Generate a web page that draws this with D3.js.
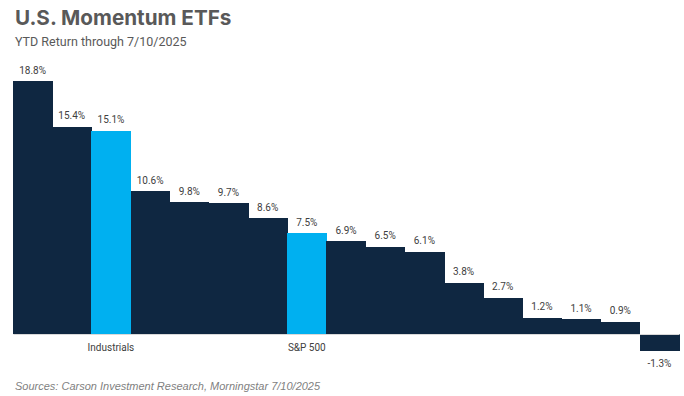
<!DOCTYPE html>
<html>
<head>
<meta charset="utf-8">
<script src="https://cdn.jsdelivr.net/npm/d3@7"></script>
<style>
  body { margin: 0; background: #fff; }
  svg { display: block; }
</style>
</head>
<body>
<div id="chart"></div>
<script>
// data
var funds = ["ETF 1", "ETF 2", "Industrials", "ETF 4", "ETF 5", "ETF 6", "ETF 7", "S&P 500",
             "ETF 9", "ETF 10", "ETF 11", "ETF 12", "ETF 13", "ETF 14", "ETF 15", "ETF 16", "ETF 17"];
var ytdReturn = [18.8, 15.4, 15.1, 10.6, 9.8, 9.7, 8.6, 7.5, 6.9, 6.5, 6.1, 3.8, 2.7, 1.2, 1.1, 0.9, -1.3];
var shownLabels = ["Industrials", "S&P 500"];

var data = funds.map(function(f, i) { return {name: f, value: ytdReturn[i]}; });

var W = 684, H = 396;
var margin = {top: 81, right: 5, bottom: 62, left: 13},
    width = W - margin.left - margin.right,
    height = H - margin.top - margin.bottom;

var svg = d3.select("#chart")
  .append("svg")
    .attr("width", W)
    .attr("height", H);

// titles
svg.append("text")
    .attr("x", 15).attr("y", 25)
    .attr("font-family", "Inter, Roboto, sans-serif")
    .attr("font-weight", "bold")
    .attr("font-size", 20.7)
    .attr("fill", "#595959")
    .text("U.S. Momentum ETFs");

svg.append("text")
    .attr("x", 15).attr("y", 45.5)
    .attr("font-family", "Roboto, sans-serif")
    .attr("font-size", 12.5)
    .attr("fill", "#595959")
    .text("YTD Return through 7/10/2025");

var g = svg.append("g")
    .attr("transform", "translate(" + margin.left + "," + margin.top + ")");

var x = d3.scaleBand()
    .domain(funds)
    .range([0, width])
    .padding(0);

// 18.8 at top, baseline at 253px
var y = d3.scaleLinear()
    .domain([-1.3, 18.8])
    .range([253 + 1.3 * 253 / 18.8, 0]);

g.selectAll(".bar")
    .data(data)
    .enter()
    .append("rect")
      .attr("x", function(d) { return x(d.name); })
      .attr("width", x.bandwidth() + 0.6)
      .attr("y", function(d) { return y(Math.max(0, d.value)); })
      .attr("height", function(d) { return Math.abs(y(d.value) - y(0)); })
      .attr("shape-rendering", "crispEdges")
      .attr("fill", function(d) { return shownLabels.indexOf(d.name) >= 0 ? "#00B0F0" : "#0F2741"; });

var labelFont = "Roboto, sans-serif";

g.selectAll(".val")
    .data(data)
    .enter()
    .append("text")
      .attr("x", function(d) { return x(d.name) + x.bandwidth() / 2; })
      .attr("y", function(d) { return d.value >= 0 ? y(d.value) - 7.5 : y(d.value) + 16; })
      .attr("text-anchor", "middle")
      .attr("font-family", labelFont)
      .attr("font-size", 10)
      .attr("fill", "#404040")
      .text(function(d) { return d.value.toFixed(1) + "%"; });

// category axis, only the highlighted names
var xAxis = g.append("g")
    .attr("transform", "translate(0," + y(0) + ")")
    .call(d3.axisBottom(x).tickSize(0).tickPadding(10)
      .tickFormat(function(d) { return shownLabels.indexOf(d) >= 0 ? d : ""; }));
xAxis.select(".domain").attr("stroke", "#d9d9d9");
xAxis.selectAll("text")
    .attr("font-family", labelFont)
    .attr("font-size", 10)
    .attr("fill", "#404040");

svg.append("text")
    .attr("x", 15).attr("y", 390)
    .attr("font-family", "'Liberation Sans', Arial, sans-serif")
    .attr("font-style", "italic")
    .attr("font-size", 11)
    .attr("fill", "#7f7f7f")
    .text("Sources: Carson Investment Research, Morningstar 7/10/2025");
</script>
</body>
</html>
